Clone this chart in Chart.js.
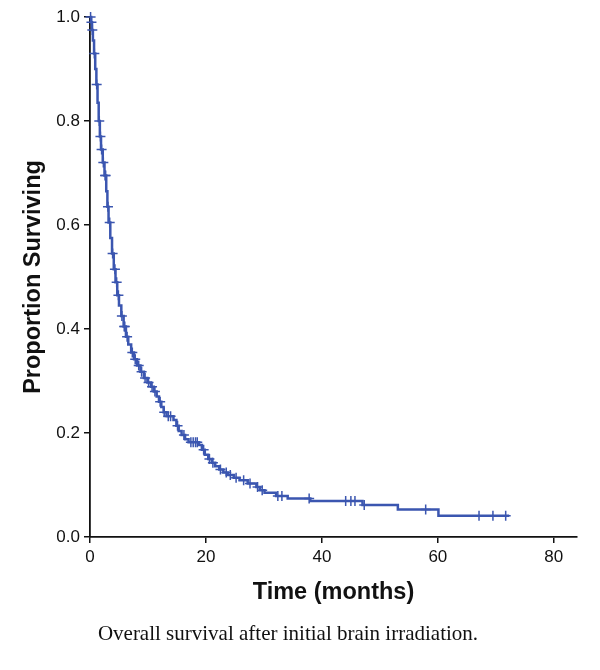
<!DOCTYPE html>
<html>
<head>
<meta charset="utf-8">
<script src="https://cdn.jsdelivr.net/npm/chart.js@4"></script>
<style>
  body { margin: 0; background: #fff; }
  #wrap { position: relative; width: 600px; height: 670px; }
  #caption {
    position: absolute; left: 0; top: 621px; width: 576px;
    text-align: center; font: 21px "Liberation Serif", "Times New Roman", serif; color: #111;
  }
</style>
</head>
<body>
<div id="wrap">
  <canvas id="kmChart" width="600" height="670"></canvas>
  <div id="caption">Overall survival after initial brain irradiation.</div>
</div>
<script>
// Kaplan-Meier curve: event times (months) and survival after each event
const eventTimes = [0, 0.2, 0.35, 0.5, 0.7, 0.9, 1.1, 1.3, 1.5, 1.7, 1.9, 2.2, 2.5, 2.8, 3.0, 3.2,
  3.5, 3.8, 4.1, 4.4, 4.7, 5.0, 5.4, 5.8, 6.2, 6.6, 7.1, 7.6, 8.1, 8.7, 9.3, 9.9, 10.5, 11.0,
  11.5, 11.9, 12.3, 12.7, 13.2, 14.4, 14.9, 15.3, 15.8, 16.4, 17.0, 18.8, 19.3, 19.8, 20.4,
  21.0, 21.6, 22.3, 23.0, 23.8, 24.8, 25.8, 27.2, 28.7, 29.3, 30.1, 32.1, 34.1, 38.0, 47.0,
  53.1, 60.1, 72.3];
const survival = [1.0, 0.99, 0.975, 0.955, 0.93, 0.90, 0.87, 0.835, 0.80, 0.77, 0.745, 0.72, 0.695,
  0.665, 0.635, 0.605, 0.575, 0.545, 0.515, 0.49, 0.465, 0.445, 0.425, 0.405, 0.385, 0.37, 0.355,
  0.342, 0.33, 0.318, 0.306, 0.297, 0.289, 0.28, 0.27, 0.26, 0.25, 0.24, 0.232, 0.225, 0.214,
  0.204, 0.196, 0.188, 0.182, 0.177, 0.168, 0.158, 0.15, 0.143, 0.136, 0.13, 0.124, 0.119, 0.114,
  0.109, 0.103, 0.096, 0.09, 0.085, 0.079, 0.074, 0.069, 0.0615, 0.053, 0.041, 0.041];

// Censored observations (months)
const censorTimes = [0.1, 0.25, 0.4, 0.75, 1.15, 1.6, 1.8, 2.0, 2.3, 2.6, 2.7, 3.1, 3.4, 3.9, 4.3,
  4.6, 4.9, 5.5, 5.9, 6.0, 6.4, 7.3, 7.8, 8.4, 8.9, 9.5, 10.1, 10.7, 11.2, 12.1, 12.8, 13.5, 13.9,
  15.1, 16.2, 17.4, 17.8, 18.2, 18.5, 19.6, 20.6, 21.2, 22.5, 23.5, 24.2, 25.2, 26.5, 27.6, 28.9,
  29.7, 32.4, 33.1, 37.8, 44.1, 45.0, 45.7, 47.3, 57.9, 67.1, 69.5, 71.7];

const xTicks = [0, 20, 40, 60, 80];
const yTicks = [0.0, 0.2, 0.4, 0.6, 0.8, 1.0];

const lineColor = 'rgb(59, 86, 176)';

// survival value at a given time (last event at or before t)
function survivalAt(t) {
  let s = survival[0];
  for (let i = 0; i < eventTimes.length; i++) {
    if (eventTimes[i] <= t) s = survival[i];
  }
  return s;
}

const curvePoints = eventTimes.map((t, i) => ({ x: t, y: survival[i] }));
const censorPoints = censorTimes.map(t => ({ x: t, y: survivalAt(t) }));

const tickFont = { family: '"Liberation Sans", Arial, sans-serif', size: 17 };
const titleFont = { family: '"Liberation Sans", Arial, sans-serif', size: 23.5, weight: 'bold' };

new Chart(document.getElementById('kmChart').getContext('2d'), {
  type: 'scatter',
  data: {
    datasets: [{
      data: curvePoints,
      showLine: true,
      stepped: true,
      borderColor: lineColor,
      borderWidth: 2.5,
      pointRadius: 0,
      clip: false
    }, {
      data: censorPoints,
      pointStyle: 'cross',
      pointRadius: 5,
      borderColor: lineColor,
      borderWidth: 1.5,
      clip: false
    }]
  },
  options: {
    responsive: false,
    animation: false,
    layout: { padding: { top: 17, right: 23, bottom: 53, left: 0 } },
    plugins: { legend: { display: false }, tooltip: { enabled: false } },
    scales: {
      x: {
        type: 'linear',
        min: 0,
        max: 84,
        afterFit: s => { s.height = 80; },
        afterBuildTicks: s => { s.ticks = xTicks.map(v => ({ value: v })); },
        ticks: { font: tickFont, color: '#111', padding: 4, includeBounds: false },
        grid: { drawOnChartArea: false, drawTicks: true, tickLength: 6, color: '#111', lineWidth: 1.5 },
        border: { color: '#111', width: 1.8 },
        title: { display: true, text: 'Time (months)', font: titleFont, color: '#111', padding: { top: 0, bottom: 10 } }
      },
      y: {
        min: 0,
        max: 1.0,
        afterFit: s => { s.width = 90; },
        afterBuildTicks: s => { s.ticks = yTicks.map(v => ({ value: v })); },
        ticks: { font: tickFont, color: '#111', padding: 4, callback: v => v.toFixed(1) },
        grid: { drawOnChartArea: false, drawTicks: true, tickLength: 6, color: '#111', lineWidth: 1.5 },
        border: { color: '#111', width: 1.8 },
        title: { display: true, text: 'Proportion Surviving', font: titleFont, color: '#111', padding: { top: 19, bottom: 0 } }
      }
    }
  }
});
</script>
</body>
</html>
